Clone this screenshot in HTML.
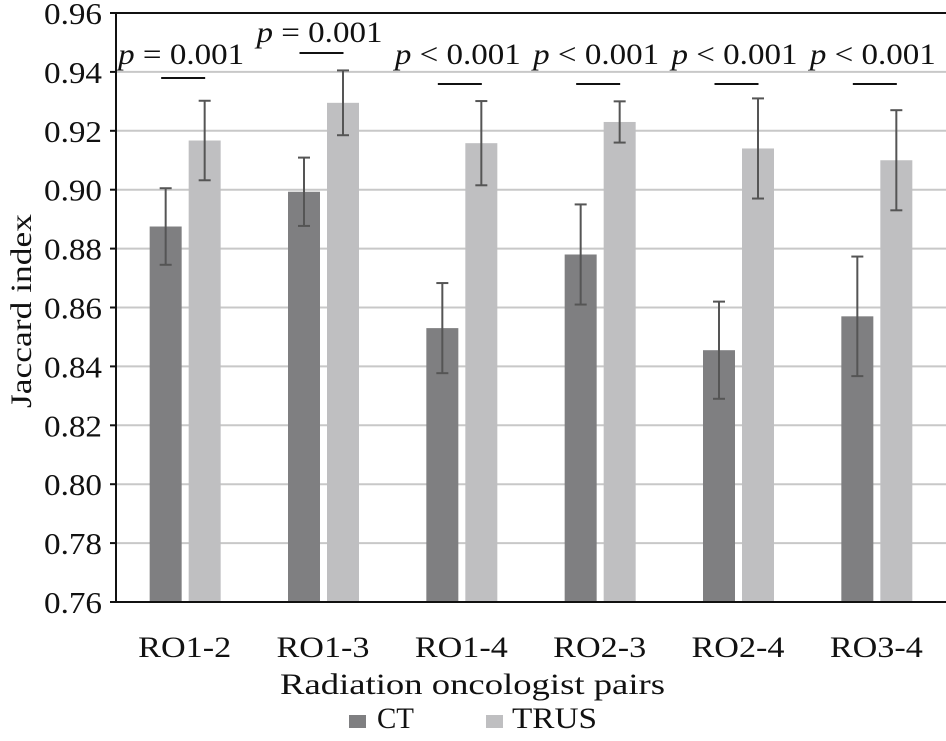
<!DOCTYPE html>
<html><head><meta charset="utf-8"><style>
body{margin:0;background:#fff}
svg text{font-family:"Liberation Serif",serif;fill:#111}
</style></head><body>
<svg id="chart" width="946" height="736" viewBox="0 0 946 736" xmlns="http://www.w3.org/2000/svg">
<g id="grid"></g><g id="bars"></g><g id="ann"></g><g id="axes"></g>
<text x="280" y="694" font-size="30" textLength="385" lengthAdjust="spacingAndGlyphs">Radiation oncologist pairs</text>
<text transform="translate(31,408) rotate(-90)" font-size="30" textLength="194" lengthAdjust="spacingAndGlyphs">Jaccard index</text>
<g>
<rect x="349" y="715" width="17" height="13" fill="#7f7f81"/>
<text x="377" y="728" font-size="30" textLength="37" lengthAdjust="spacingAndGlyphs">CT</text>
<rect x="486" y="715" width="17" height="13" fill="#bfbfc1"/>
<text x="512" y="728" font-size="30" textLength="85" lengthAdjust="spacingAndGlyphs">TRUS</text>
</g>
</svg>
<script>
const categories=["RO1-2","RO1-3","RO1-4","RO2-3","RO2-4","RO3-4"];
const ctValues=[0.8875,0.8993,0.853,0.878,0.8455,0.857];
const ctErrors=[0.013,0.0116,0.0153,0.017,0.0165,0.0203];
const trusValues=[0.9167,0.9295,0.9158,0.923,0.914,0.910];
const trusErrors=[0.0135,0.011,0.0143,0.007,0.017,0.017];
const pLabels=["= 0.001","= 0.001","< 0.001","< 0.001","< 0.001","< 0.001"];
const yTicks=[0.76,0.78,0.80,0.82,0.84,0.86,0.88,0.90,0.92,0.94,0.96];
const NS="http://www.w3.org/2000/svg";
const x0=116,x1=946,yTop=13,yBot=602,vMin=0.76,vMax=0.96;
const y=v=>yBot-(v-vMin)/(vMax-vMin)*(yBot-yTop);
const gw=(x1-x0)/categories.length;
const gc=i=>x0+gw*(i+0.5);
function mk(t,a,parent){const e=document.createElementNS(NS,t);for(const k in a)e.setAttribute(k,a[k]);parent.appendChild(e);return e;}
const grid=document.getElementById('grid'),bars=document.getElementById('bars'),ann=document.getElementById('ann'),axes=document.getElementById('axes');
yTicks.forEach((t,i)=>{
  const edge=i===yTicks.length-1||i===0;
  const l=mk('line',{x1:x0,x2:x1,y1:y(t),y2:y(t),stroke:edge?'#111':'#c8c8c8','stroke-width':2},i===0?axes:grid);
  
  
  const tk=mk('line',{x1:x0-6,x2:x0,y1:y(t),y2:y(t),stroke:'#111','stroke-width':2},axes);
  
  
  const tx=mk('text',{x:44,y:y(t)+11,'font-size':31,textLength:58,lengthAdjust:'spacingAndGlyphs'},axes);
  tx.textContent=t.toFixed(2);
  
  
});
const ax=mk('line',{x1:x0,x2:x0,y1:yTop-1,y2:yBot+1,stroke:'#111','stroke-width':2},axes);


const bw=32,gap=7;
function bar(cx,v,e,col,name){
  const r=mk('rect',{x:cx-bw/2,y:y(v),width:bw,height:yBot-y(v),fill:col},bars);
  
  
  const g=mk('g',{stroke:'#555','stroke-width':2},bars);
  
  
  mk('line',{x1:cx,x2:cx,y1:y(v+e),y2:y(v-e)},g);
  mk('line',{x1:cx-6,x2:cx+6,y1:y(v+e),y2:y(v+e)},g);
  mk('line',{x1:cx-6,x2:cx+6,y1:y(v-e),y2:y(v-e)},g);
}
categories.forEach((c,i)=>{
  const cx=gc(i);
  bar(cx-gap/2-bw/2,ctValues[i],ctErrors[i],'#7f7f81','bar-ct-'+c.toLowerCase());
  bar(cx+gap/2+bw/2,trusValues[i],trusErrors[i],'#bfbfc1','bar-trus-'+c.toLowerCase());
  const t=mk('text',{x:cx-47,y:657,'font-size':30,textLength:93,lengthAdjust:'spacingAndGlyphs'},axes);
  t.textContent=c;
  
  
  const ly=i===0?78:(i===1?53:84), ty=i===0?64:(i===1?42:64);
  const ln=mk('line',{x1:cx-24,x2:cx+20,y1:ly,y2:ly,stroke:'#111','stroke-width':2},ann);
  
  
  const pt=mk('text',{x:cx-67,y:ty,'font-size':30,textLength:126,lengthAdjust:'spacingAndGlyphs'},ann);
  pt.innerHTML='<tspan font-style="italic">p</tspan> '+pLabels[i].replace('<','&lt;');
  
  
});
</script>
</body></html>
